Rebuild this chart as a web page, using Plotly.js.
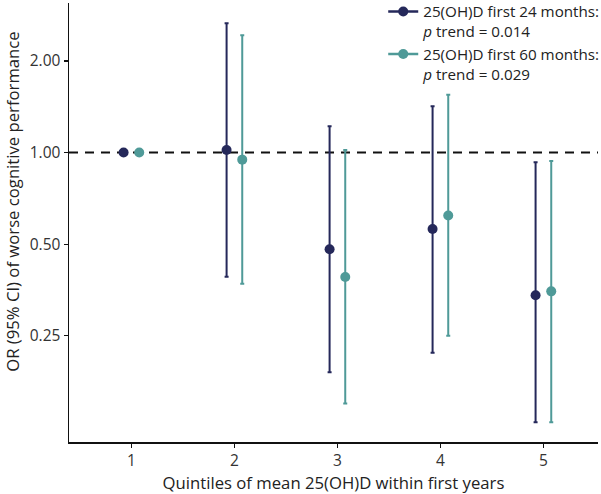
<!DOCTYPE html>
<html>
<head>
<meta charset="utf-8">
<script src="https://cdn.plot.ly/plotly-3.0.1.min.js"></script>
<style>html,body{margin:0;padding:0;background:#fff;}#chart{width:601px;height:494px;}</style>
</head>
<body>
<div id="chart"></div>
<script>
// Data
const quintiles = [1, 2, 3, 4, 5];
const tickLabelsY = ['0.25', '0.50', '1.00', '2.00'];
const tickValsY = [0.25, 0.5, 1, 2];

const or24 = [1.00, 1.02, 0.481, 0.561, 0.340];
const lo24 = [1.00, 0.391, 0.190, 0.220, 0.130];
const hi24 = [1.00, 2.66, 1.22, 1.42, 0.929];

const or60 = [1.00, 0.948, 0.390, 0.621, 0.350];
const lo60 = [1.00, 0.371, 0.150, 0.250, 0.130];
const hi60 = [1.00, 2.43, 1.02, 1.548, 0.938];

const name24 = '25(OH)D first 24 months:<br><i>p</i> trend = 0.014';
const name60 = '25(OH)D first 60 months:<br><i>p</i> trend = 0.029';

const dodge = 0.076;
const col24 = '#25285a';
const col60 = '#4f9a98';

function mk(x, y, lo, hi, color, offset) {
  return {
    x: x.map(v => v + offset),
    y: y,
    type: 'scatter',
    mode: 'markers',
    showlegend: false,
    marker: {color: color, size: 10},
    error_y: {
      type: 'data', symmetric: false,
      array: hi.map((h, i) => h - y[i]),
      arrayminus: lo.map((l, i) => y[i] - l),
      color: color, thickness: 2, width: 2
    },
    hoverinfo: 'x+y'
  };
}
function leg(name, color) {
  return {
    x: [null], y: [null], type: 'scatter', mode: 'lines+markers', name: name,
    line: {color: color, width: 2.5}, marker: {color: color, size: 10}
  };
}

const traces = [
  mk(quintiles, or24, lo24, hi24, col24, -dodge),
  mk(quintiles, or60, lo60, hi60, col60, dodge),
  leg(name24, col24),
  leg(name60, col60)
];

const layout = {
  width: 601, height: 494,
  margin: {l: 69, r: 3, t: 3, b: 52, autoexpand: false},
  paper_bgcolor: '#fff', plot_bgcolor: '#fff',
  font: {family: 'Open Sans, sans-serif', size: 15.5, color: '#222'},
  showlegend: true,
  legend: {
    x: 0.594, y: 1.018, xanchor: 'left', yanchor: 'top', valign: 'top',
    bgcolor: 'rgba(0,0,0,0)', font: {size: 15.2, color: '#222'},
    itemwidth: 30, tracegroupgap: 2
  },
  xaxis: {
    range: [0.394, 5.53], tickvals: quintiles, ticktext: quintiles.map(String),
    showgrid: false, zeroline: false, showline: true, linecolor: '#111', linewidth: 1.5,
    ticks: 'outside', ticklen: 4, tickcolor: '#111', tickwidth: 1.2,
    tickfont: {size: 15.5, color: '#333'},
    title: {text: 'Quintiles of mean 25(OH)D within first years', font: {size: 16.7, color: '#222'}, standoff: 8}
  },
  yaxis: {
    type: 'log', range: [Math.log10(0.112), Math.log10(3.10)],
    tickvals: tickValsY, ticktext: tickLabelsY,
    showgrid: false, zeroline: false, showline: true, linecolor: '#111', linewidth: 1.5,
    ticks: 'outside', ticklen: 4, tickcolor: '#111', tickwidth: 1.2,
    tickfont: {size: 15.5, color: '#333'}
  },
  shapes: [{
    type: 'line', xref: 'paper', x0: 0, x1: 1, yref: 'y', y0: 1, y1: 1,
    line: {color: '#111', width: 2, dash: '9px,7px'}, layer: 'below'
  }],
  annotations: [{
    text: 'OR (95% CI) of worse cognitive performance',
    xref: 'paper', yref: 'paper', x: -0.107, y: 0.548,
    xanchor: 'center', yanchor: 'middle', textangle: -90, showarrow: false,
    font: {size: 16.7, color: '#222'}
  }]
};

Plotly.newPlot('chart', traces, layout, {displayModeBar: false, staticPlot: true});
</script>
</body>
</html>
